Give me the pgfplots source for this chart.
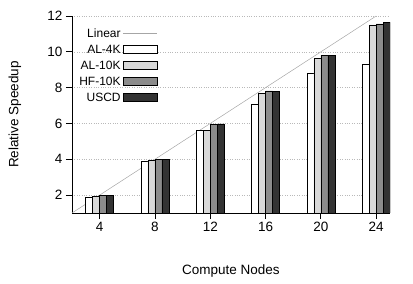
\documentclass[border=0pt]{standalone}
\usepackage{fontspec}
\setmainfont{Liberation Sans}
\usepackage{pgfplots}
\pgfplotsset{compat=1.18}
\pgfplotsset{
  barleg/.style={legend image code/.code={\draw[##1] (0bp,-3.5bp) rectangle (34bp,4.5bp);}},
  lineleg/.style={legend image code/.code={\draw[##1] (0bp,0.5bp) -- (34bp,0.5bp);}},
}
\begin{document}
\begin{tikzpicture}
\begin{axis}[
  scale only axis, width=318bp, height=197bp,
  xmin=2, xmax=25, ymin=1, ymax=12,
  axis x line*=bottom, axis y line*=left,
  axis line style={line width=0.8bp},
  xtick={4,8,12,16,20,24}, ytick={2,4,6,8,10,12},
  tick align=outside, major tick length=6bp,
  tick style={line width=0.8bp, black},
  ymajorgrids, grid style={dotted, gray!55, line width=0.6bp},
  /pgf/number format/assume math mode=true,
  ticklabel style={font=\fontsize{13.5bp}{16bp}\selectfont},
  label style={font=\fontsize{13.5bp}{16bp}\selectfont},
  xlabel={Compute Nodes}, ylabel={Relative Speedup},
  xlabel style={at={(axis description cs:0.5,-0.294)}, anchor=center},
  ylabel style={at={(axis description cs:-0.18,0.5)}, anchor=center},
  legend plot pos=right, legend cell align=right,
  legend style={draw=none, fill=none, at={(axis description cs:0.272,0.95)}, anchor=north east,
    font=\fontsize{12bp}{14bp}\selectfont, row sep=2bp, inner sep=1bp},
]
\addplot[gray!70, line width=0.5bp, lineleg]
  coordinates {(2,1) (24,12)};
\addlegendentry{Linear}
\addplot[ybar, bar width=7bp, bar shift=-10.5bp, fill=white, draw=black, line width=0.7bp, barleg]
  coordinates {(4,1.86) (8,3.88) (12,5.63) (16,7.07) (20,8.78) (24,9.3)};
\addlegendentry{AL-4K}
\addplot[ybar, bar width=7bp, bar shift=-3.5bp, fill=black!15, draw=black, line width=0.7bp, barleg]
  coordinates {(4,1.92) (8,3.96) (12,5.63) (16,7.67) (20,9.62) (24,11.5)};
\addlegendentry{AL-10K}
\addplot[ybar, bar width=7bp, bar shift=3.5bp, fill=black!45, draw=black, line width=0.7bp, barleg]
  coordinates {(4,1.96) (8,3.97) (12,5.93) (16,7.82) (20,9.8) (24,11.56)};
\addlegendentry{HF-10K}
\addplot[ybar, bar width=7bp, bar shift=10.5bp, fill=black!80, draw=black, line width=0.7bp, barleg]
  coordinates {(4,1.98) (8,4.01) (12,5.97) (16,7.8) (20,9.8) (24,11.64)};
\addlegendentry{USCD}
\end{axis}
\pgfresetboundingbox
\path[use as bounding box] (current axis.south west) ++(-72bp,-71bp) rectangle ++(413bp,284bp);
\end{tikzpicture}
\end{document}
